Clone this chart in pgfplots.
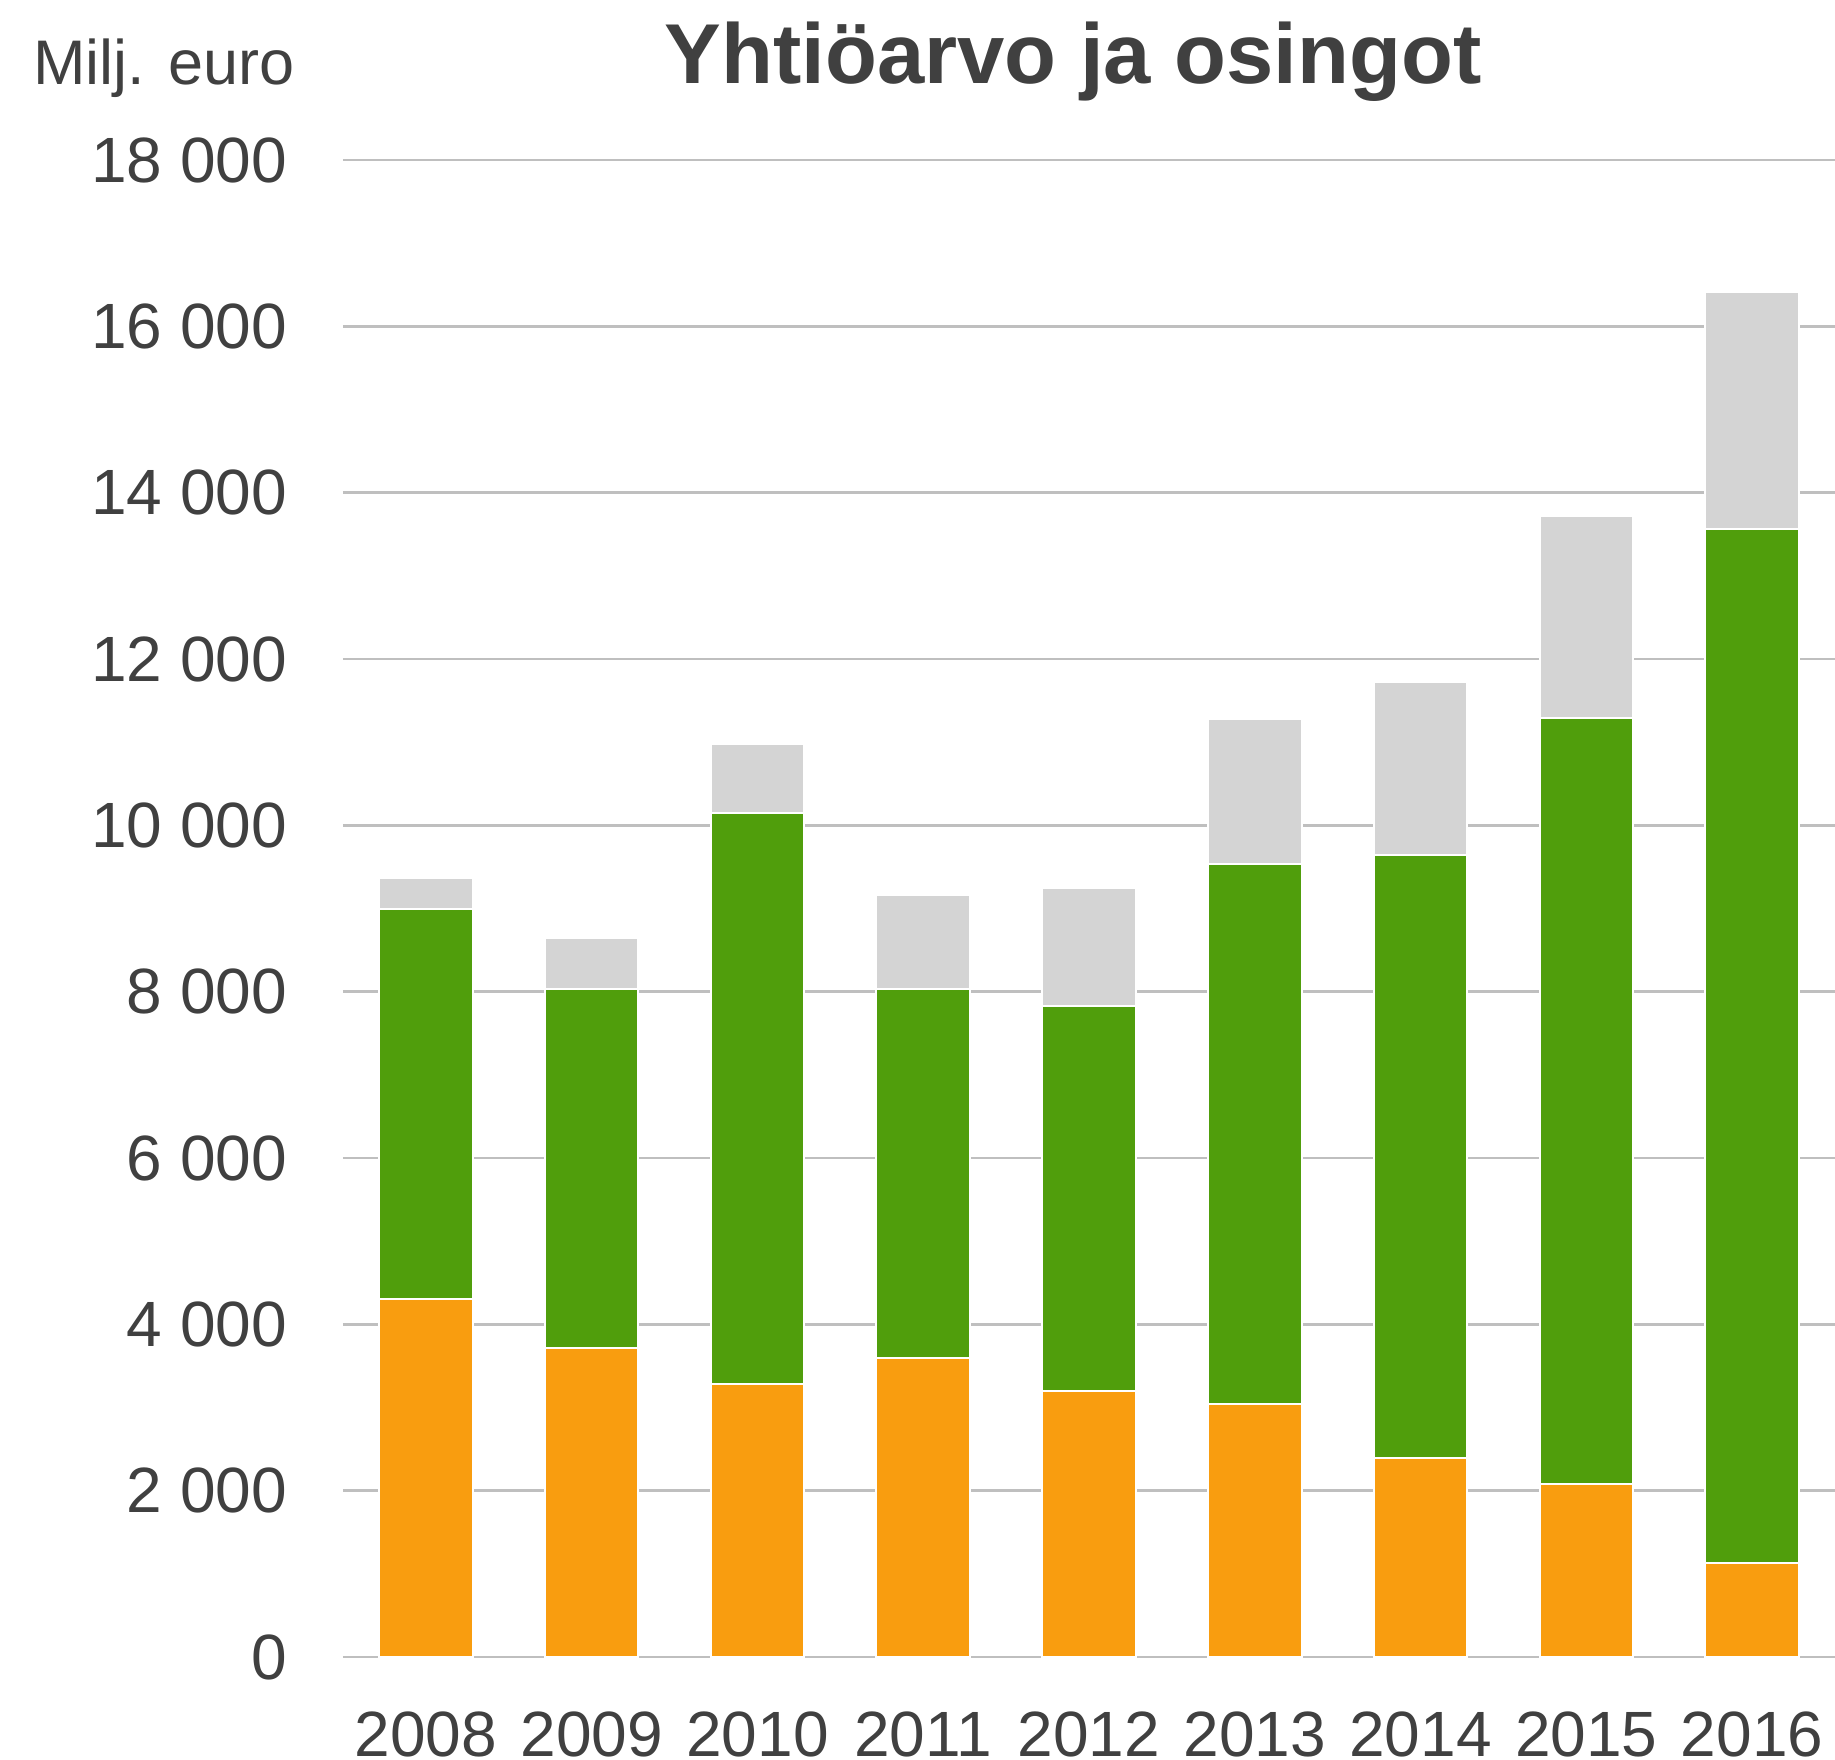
\documentclass[border=0pt]{standalone}
\usepackage{pgfplots}
\pgfplotsset{compat=1.18}
\usepackage{fontspec}
\setmainfont{Liberation Sans}
\definecolor{txt}{HTML}{404040}
\definecolor{cOr}{HTML}{F99D0F}
\definecolor{cGr}{HTML}{509E0C}
\definecolor{cGy}{HTML}{D4D4D4}
\definecolor{cGrid}{HTML}{BFBFBF}
\begin{document}
\begin{tikzpicture}
\path[use as bounding box] (-171.5pt,-51.5pt) rectangle (746pt,828.5pt);
\begin{axis}[
  at={(0pt,0pt)}, anchor=south west,
  scale only axis, width=746pt, height=748.5pt,
  xmin=-0.5, xmax=8.5, ymin=0, ymax=18000,
  scaled ticks=false,
  ybar stacked, bar width=46.8pt,
  axis line style={draw=none},
  tick style={draw=none},
  ymajorgrids, grid style={cGrid, line width=1.2pt},
  xtick={0,...,8},
  xticklabels={2008,2009,2010,2011,2012,2013,2014,2015,2016},
  ytick={0,2000,...,18000},
  yticklabels={0,2 000,4 000,6 000,8 000,10 000,12 000,14 000,16 000,18 000},
  ticklabel style={font=\fontsize{32}{38}\selectfont, text=txt, inner sep=0pt},
  yticklabel style={anchor=east, xshift=-27.8pt},
  xticklabel style={anchor=north, yshift=-27pt},
  every axis plot/.append style={draw=white, line width=1pt},
]
\addplot[fill=cOr] coordinates {(0,4300) (1,3715) (2,3280) (3,3590) (4,3195) (5,3040) (6,2390) (7,2085) (8,1125)};
\addplot[fill=cGr] coordinates {(0,4690) (1,4320) (2,6865) (3,4445) (4,4630) (5,6490) (6,7250) (7,9200) (8,12440)};
\addplot[fill=cGy] coordinates {(0,380) (1,605) (2,830) (3,1125) (4,1420) (5,1745) (6,2080) (7,2435) (8,2845)};
\end{axis}
\node[anchor=base west, inner sep=0pt, text=txt, font=\fontsize{31.5}{38}\selectfont] at (-155pt,786pt) {Milj. euro};
\node[anchor=base, inner sep=0pt, text=txt, font=\fontsize{42.5}{50}\selectfont\bfseries] at (365pt,786.5pt) {Yhtiöarvo ja osingot};
\end{tikzpicture}
\end{document}
